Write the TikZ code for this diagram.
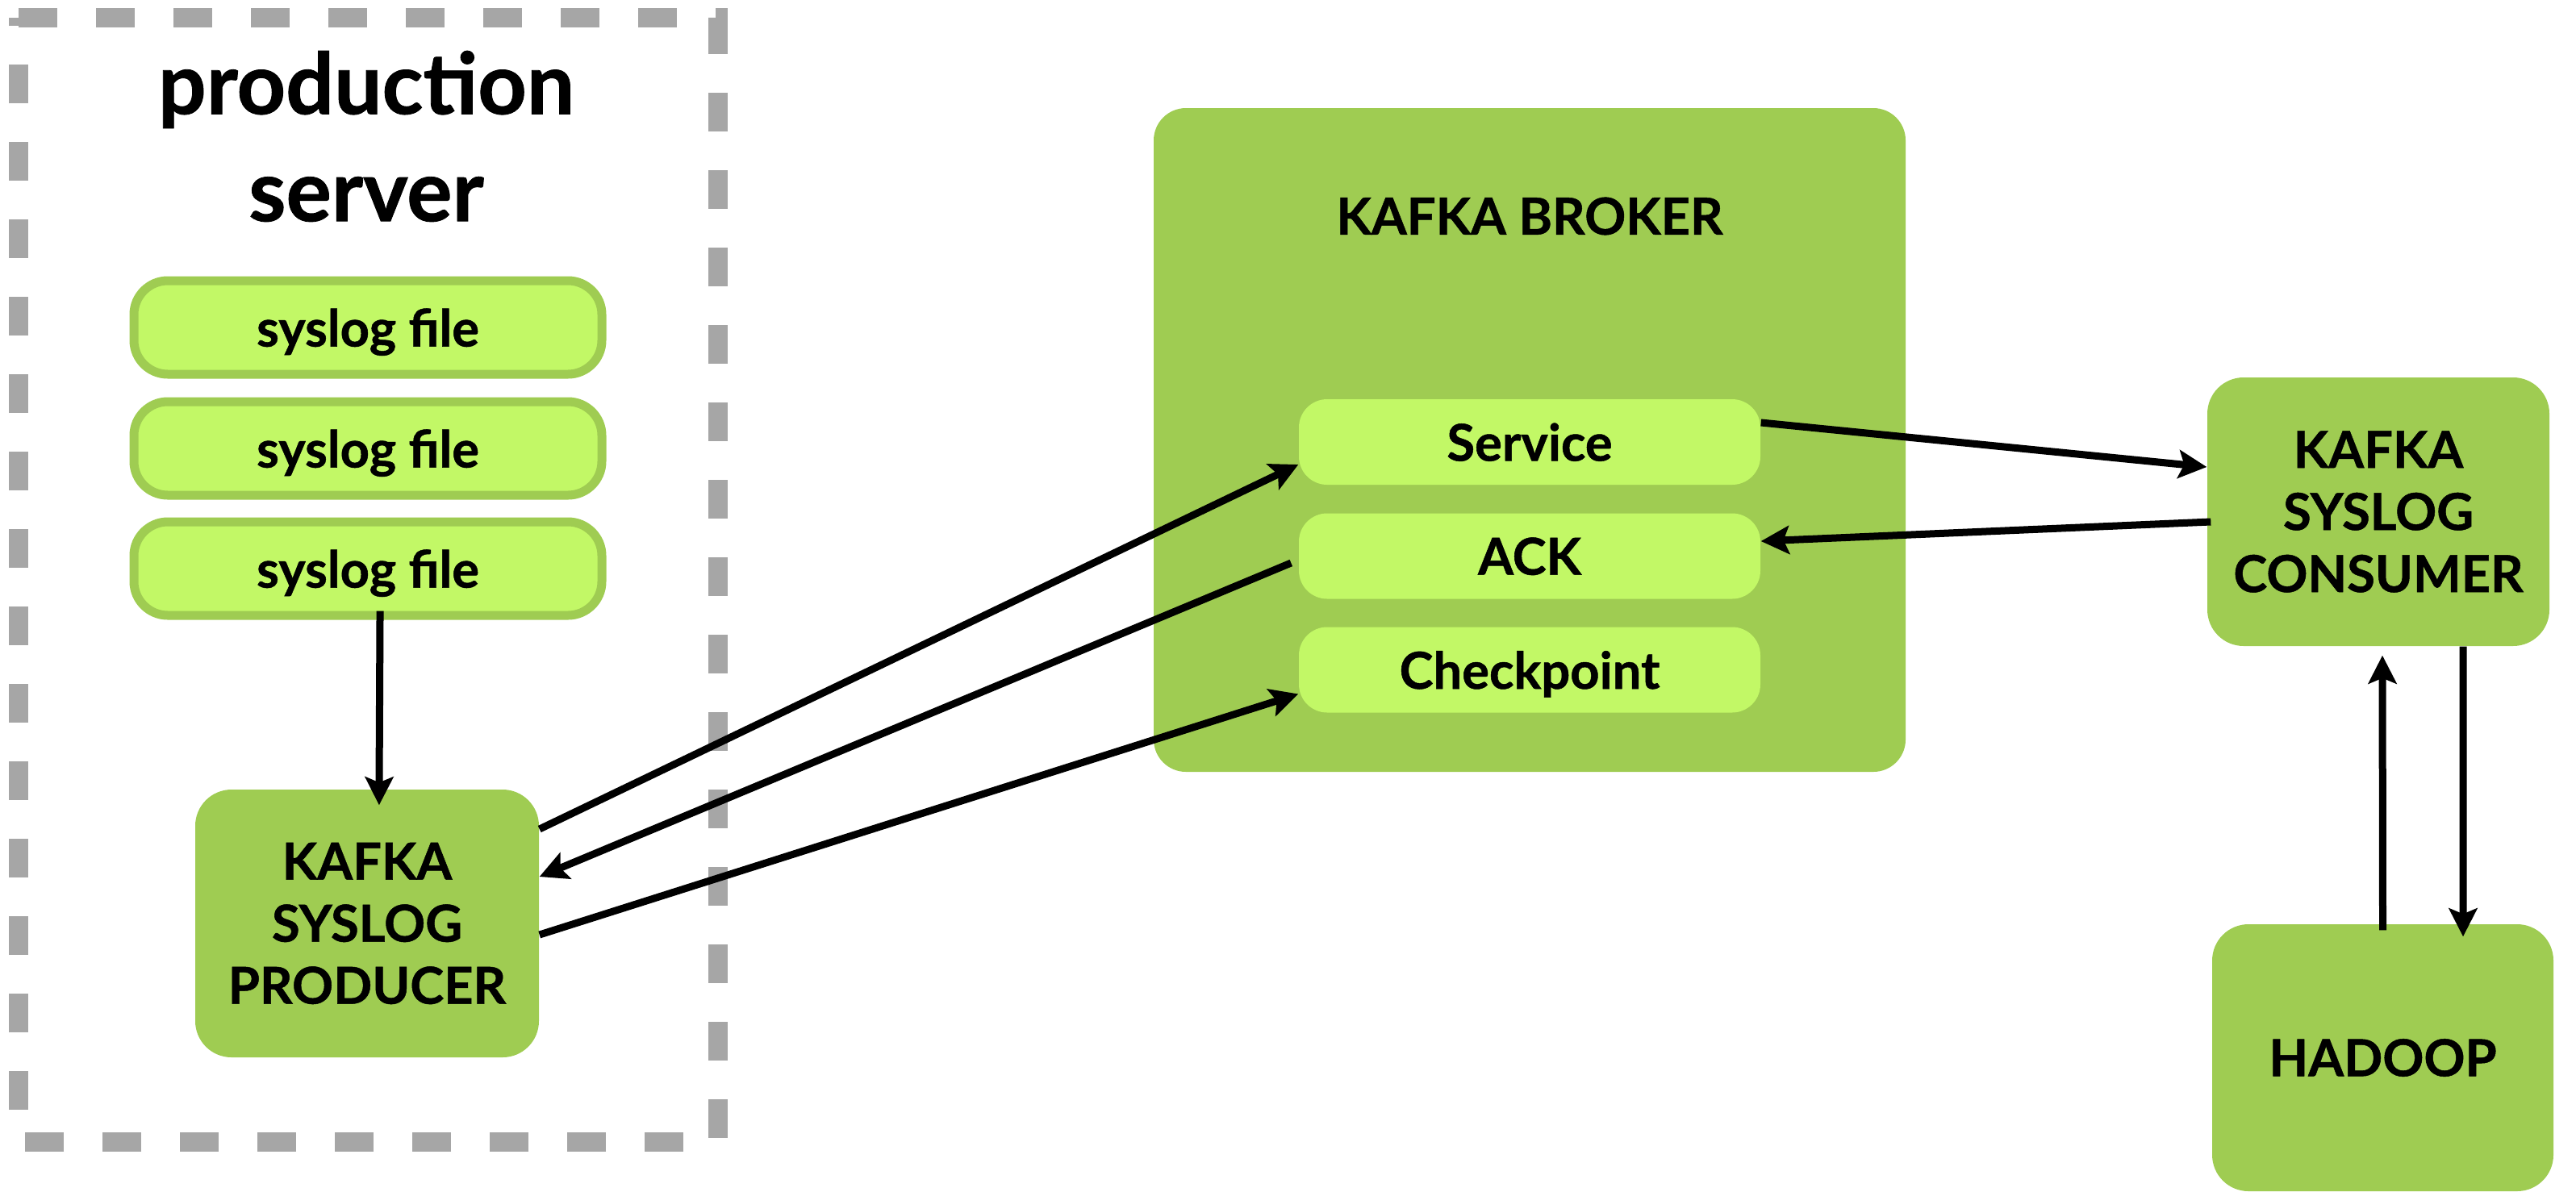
\documentclass[tikz,border=0pt]{standalone}
\usepackage{fontspec}
\setmainfont{Lato}[BoldFeatures={FakeBold=0.8}]
\usetikzlibrary{arrows.meta}

\definecolor{leafgreen}{HTML}{9FCC52}
\definecolor{limegreen}{HTML}{C2F866}
\definecolor{dashgray}{HTML}{A6A6A6}

\begin{document}
\begin{tikzpicture}[
        bigbox/.style={fill=leafgreen, rounded corners=0.45cm, inner sep=0pt,
            align=center, font=\bfseries\fontsize{18}{21.9}\selectfont},
        filebox/.style={fill=limegreen, draw=leafgreen, line width=0.11cm,
            rounded corners=0.42cm, minimum width=5.80cm, minimum height=1.16cm,
            inner sep=0pt, text depth=0pt, font=\bfseries\fontsize{18}{20}\selectfont},
        slot/.style={fill=limegreen, rounded corners=0.35cm, minimum width=5.72cm,
            minimum height=1.06cm, inner sep=0pt, text depth=0pt,
            font=\bfseries\fontsize{18}{20}\selectfont},
        flow/.style={-{Stealth[length=0.35cm, width=0.35cm, inset=0.07cm]}, line width=0.09cm}
    ]

            %----- CANVAS -----
            \useasboundingbox (0,0) rectangle (31.93,-14.77);

            %----- PRODUCTION SERVER -----
            \draw[dashgray, line width=0.24cm, dash pattern=on 0.48cm off 0.48cm]
                (0.23,-0.22) -- (8.90,-0.22) -- (8.90,-14.16) -- (0.23,-14.16) -- cycle;
            \node[align=center, inner sep=0pt, font=\bfseries\fontsize{30}{37.8}\selectfont]
                (server) at (4.54,-1.69) {production\\server};

            \node[filebox] (file1) at (4.56,-4.06) {syslog file};
            \node[filebox] (file2) at (4.56,-5.56) {syslog file};
            \node[filebox] (file3) at (4.56,-7.05) {syslog file};

            \node[bigbox, minimum width=4.26cm, minimum height=3.32cm]
                (prod) at (4.55,-11.45) {KAFKA\\SYSLOG\\PRODUCER};

            %----- KAFKA BROKER -----
            \node[bigbox, rounded corners=0.4cm, minimum width=9.32cm, minimum height=8.23cm]
                (broker) at (18.96,-5.455) {};
            \node[font=\bfseries\fontsize{18}{20}\selectfont, inner sep=0pt]
                (brokerlabel) at (18.96,-2.68) {KAFKA BROKER};

            \node[slot] (service) at (18.96,-5.48) {Service};
            \node[slot] (ack) at (18.96,-6.895) {ACK};
            \node[slot] (checkpt) at (18.96,-8.305) {Checkpoint};

            %----- CONSUMER AND HADOOP -----
            \node[bigbox, minimum width=4.24cm, minimum height=3.33cm]
                (consumer) at (29.48,-6.345) {KAFKA\\SYSLOG\\CONSUMER};
            \node[bigbox, minimum width=4.23cm, minimum height=3.31cm]
                (hadoop) at (29.535,-13.115) {HADOOP};

            %----- CONNECTORS -----
            \draw[flow, shorten <=-0.11cm, shorten >=-0.2cm]
                ([xshift=0.15cm]file3.south) -- ([xshift=0.15cm]prod.north);
            \draw[flow] ([yshift=1.17cm]prod.east) -- ([yshift=-0.28cm]service.west);
            \draw[flow] ([xshift=-0.09cm,yshift=-0.085cm]ack.west) -- ([yshift=0.58cm]prod.east);
            \draw[flow] ([yshift=-0.14cm]prod.east) -- ([yshift=-0.30cm]checkpt.west);
            \draw[flow] ([yshift=0.24cm]service.east) -- ([yshift=0.555cm]consumer.west);
            \draw[flow] ([xshift=0.05cm,yshift=-0.125cm]consumer.west) -- ([yshift=0.185cm]ack.east);
            \draw[flow] ([yshift=-0.08cm]hadoop.north) -- ([xshift=0.05cm,yshift=-0.11cm]consumer.south);
            \draw[flow] ([xshift=1.05cm]consumer.south) -- ([xshift=0.995cm,yshift=-0.16cm]hadoop.north);

        \end{tikzpicture}
\end{document}
